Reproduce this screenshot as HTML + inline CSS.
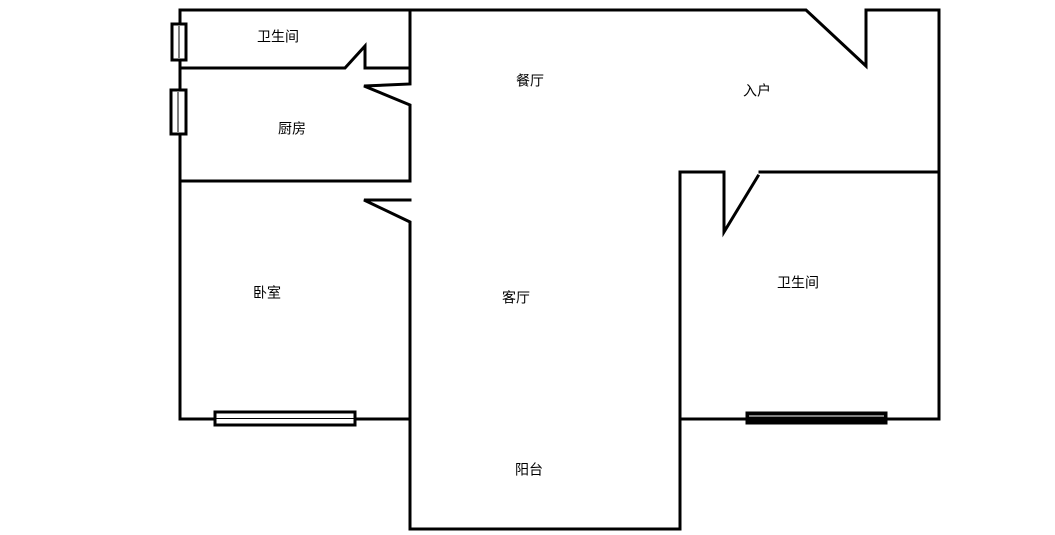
<!DOCTYPE html>
<html><head><meta charset="utf-8"><style>
html,body{margin:0;padding:0;background:#fff;}
svg{display:block;}
text{font-family:"Liberation Sans","Noto Sans CJK SC",sans-serif;font-size:14px;fill:#000;text-anchor:middle;dominant-baseline:middle;}
</style></head><body>
<svg width="1055" height="535" viewBox="0 0 1055 535" xmlns="http://www.w3.org/2000/svg">
<g stroke="#000" stroke-width="3" fill="none" stroke-linecap="square">
<polyline points="180,419 180,10 806,10 866,66 866,10 939,10 939,419 680,419"/>
<polyline points="180,68 345,68 365,46 365,68 410,68"/>
<polyline points="410,10 410,84 364,86 410,105 410,181"/>
<line x1="180" y1="181" x2="410" y2="181"/>
<polyline points="410,200 364,200 410,222 410,529 680,529 680,172 724,172 724,232 758,176"/>
<line x1="760" y1="172" x2="939" y2="172"/>
<line x1="180" y1="419" x2="410" y2="419"/>
<rect x="215" y="412" width="140" height="13" fill="#fff"/>
<line x1="217" y1="418.5" x2="353" y2="418.5" stroke-width="1"/>
<rect x="747" y="413" width="139" height="10" fill="#000"/>
<rect x="172" y="24" width="14" height="36" fill="#fff"/>
<rect x="171" y="90" width="15" height="44" fill="#fff"/>
</g>
<line x1="749" y1="416" x2="884" y2="416" stroke="#fff" stroke-width="1"/>
<line x1="179" y1="26" x2="179" y2="58" stroke="#000" stroke-width="1"/>
<line x1="178" y1="92" x2="178" y2="132" stroke="#000" stroke-width="1"/>
<text x="278" y="38">卫生间</text>
<text x="292" y="130">厨房</text>
<text x="267" y="294">卧室</text>
<text x="530" y="82">餐厅</text>
<text x="516" y="299">客厅</text>
<text x="757" y="92">入户</text>
<text x="798" y="284">卫生间</text>
<text x="529" y="471">阳台</text>
</svg>
</body></html>
